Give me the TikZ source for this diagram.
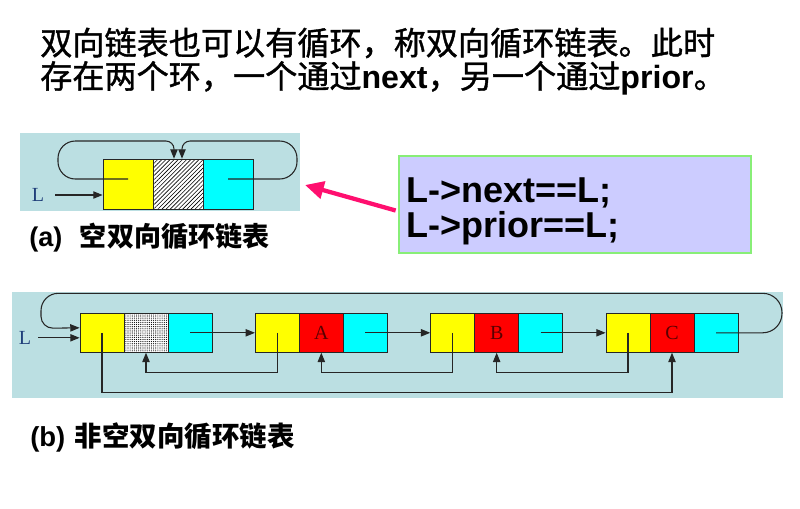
\documentclass[tikz,border=0pt]{standalone}
\usepackage{fontspec}
\setmainfont{Liberation Sans}
\newfontfamily\cjk{Noto Sans CJK SC}
\newfontfamily\cjkh[FakeBold=1.2]{Noto Sans CJK SC}
\newfontfamily\serifL{Liberation Serif}
\usetikzlibrary{arrows.meta,patterns,patterns.meta,calc}
\definecolor{bgc}{HTML}{BBDFE2}
\definecolor{boxfill}{HTML}{CCCCFF}
\definecolor{boxline}{HTML}{88EE77}
\definecolor{pinkc}{HTML}{FF0F6F}
\definecolor{lblue}{HTML}{203F7A}
\definecolor{darkred}{HTML}{5A0000}
\definecolor{cyanc}{HTML}{00FFFF}
\definecolor{yellowc}{HTML}{FFFF00}
\definecolor{redc}{HTML}{FF0000}
\begin{document}
\begin{tikzpicture}[x=0.75pt,y=-0.75pt,
  cell/.style={draw=black!85, line width=0.6pt, inner sep=0pt},
  acell/.style={cell, minimum width=37.5pt, minimum height=37.5pt},
  bcell/.style={cell, minimum width=33pt, minimum height=29.25pt, font=\serifL\fontsize{15}{15}\selectfont, text=darkred},
  hatcha/.style={preaction={fill=white}, pattern={Lines[angle=45,distance=2.2pt,line width=0.45pt]}},
  hatchb/.style={preaction={fill=white}, pattern={Dots[distance=1.6pt,radius=0.45pt]}},
  conn/.style={draw=black!85, line width=0.8pt, -{Triangle[length=7pt,width=5.5pt]}},
  lab/.style={font=\serifL\fontsize{15}{15}\selectfont, text=lblue, inner sep=0pt}]
\useasboundingbox (0,0) rectangle (800,508);
\fill[white] (0,0) rectangle (800,508);

% heading
\node[anchor=west, inner sep=0pt, font=\cjkh\fontsize{24.1}{24}\selectfont] (t1) at (40,43) {双向链表也可以有循环，称双向循环链表。此时};
\node[anchor=west, inner sep=0pt, font=\cjkh\fontsize{24.1}{24}\selectfont] (t2) at (40,78) {存在两个环，一个通过{\rmfamily\bfseries next}，另一个通过{\rmfamily\bfseries prior}。};

% panel (a)
\node[fill=bgc, minimum width=210pt, minimum height=58.5pt, inner sep=0pt] (pa) at (160,172) {};
\node[acell, fill=yellowc] (ay) at (128,184) {};
\node[acell, hatcha] (ah) at (178,184) {};
\node[acell, fill=cyanc] (ac) at (228,184) {};
\draw[conn, rounded corners=13pt] ([yshift=3.75pt]ay.center) -- (58,179) -- (58,141) [rounded corners=6pt] -- (174,141) -- ([xshift=-3pt]ah.north);
\draw[conn, rounded corners=13pt] ([yshift=3.75pt]ac.center) -- (297,179) -- (297,141) [rounded corners=6pt] -- (182,141) -- ([xshift=3pt]ah.north);
\node[lab] (La) at (38,195) {L};
\draw[conn] ([xshift=8pt]La.east) -- (La.east -| ay.west);
\node[anchor=west, inner sep=0pt, font=\bfseries\fontsize{20.3}{20}\selectfont] (capa) at (29,238) {(a)\hspace{0.65em}{\cjk 空双向循环链表}};

% code box
\node[draw=boxline, fill=boxfill, line width=1pt, minimum width=264pt, minimum height=72.75pt, inner sep=0pt] (code) at (575,204.5) {};
\node[anchor=west, align=left, inner sep=0pt, font=\bfseries\fontsize{27}{26}\selectfont] (codet) at ([xshift=6pt,yshift=-5pt]code.west) {L->next==L;\\L->prior==L;};
\coordinate (ptip) at (305,185);
\draw[pinkc, line width=3.2pt, -{Triangle[length=14pt,width=13pt]}] ([xshift=-2pt,yshift=-4.5pt]code.west) -- (ptip);

% panel (b)
\node[fill=bgc, minimum width=578.25pt, minimum height=79.5pt, inner sep=0pt] (pb) at (397.5,345) {};
\node[bcell, fill=yellowc] (b0y) at (102,332.8) {};
\node[bcell, hatchb] (b0h) at (146,332.8) {};
\node[bcell, fill=cyanc] (b0c) at (190,332.8) {};
\node[bcell, fill=yellowc] (bAy) at (277.33,332.8) {};
\node[bcell, fill=redc] (bA) at (321.33,332.8) {A};
\node[bcell, fill=cyanc] (bAc) at (365.33,332.8) {};
\node[bcell, fill=yellowc] (bBy) at (452.67,332.8) {};
\node[bcell, fill=redc] (bB) at (496.67,332.8) {B};
\node[bcell, fill=cyanc] (bBc) at (540.67,332.8) {};
\node[bcell, fill=yellowc] (bCy) at (628,332.8) {};
\node[bcell, fill=redc] (bC) at (672,332.8) {C};
\node[bcell, fill=cyanc] (bCc) at (716,332.8) {};

\draw[conn] (b0c.center) -- (bAy.west);
\draw[conn] (bAc.center) -- (bBy.west);
\draw[conn] (bBc.center) -- (bCy.west);
\draw[conn] (bAy.center) -- ++(0,39.5) -| (b0h.south);
\draw[conn] (bBy.center) -- ++(0,39.5) -| (bA.south);
\draw[conn] (bCy.center) -- ++(0,39.5) -| (bB.south);
\draw[conn] (b0y.center) -- ++(0,59.5) -| (bC.south);
\draw[conn, rounded corners=14.5pt] (bCc.center) -- (782,332.8) -- (782,293.3) [rounded corners=13pt] -- (41,293.3) [rounded corners=9pt] -- (41,328.3) -- ([yshift=3.75pt]b0y.west);
\node[lab] (Lb) at (25,337.8) {L};
\draw[conn] ([xshift=5pt]Lb.east) -- (Lb.east -| b0y.west);
\node[anchor=west, inner sep=0pt, font=\bfseries\fontsize{20.6}{20}\selectfont] (capb) at (30,437) {(b)\hspace{0.35em}{\cjk 非空双向循环链表}};
\end{tikzpicture}
\end{document}
